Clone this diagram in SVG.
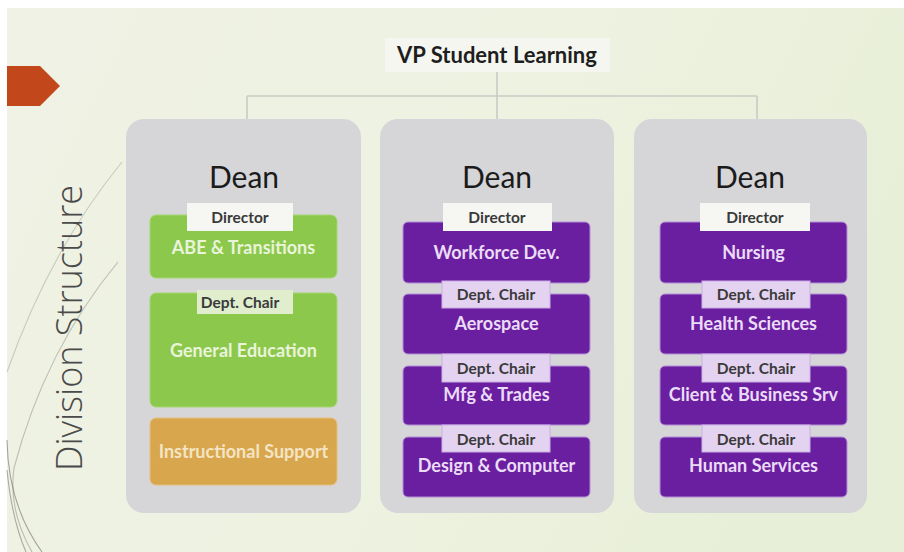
<svg xmlns="http://www.w3.org/2000/svg" width="904" height="552" viewBox="0 0 904 552">
  <defs>
    <linearGradient id="bg" x1="0" y1="0" x2="1" y2="0.3">
      <stop offset="0" stop-color="#eff2e4"/>
      <stop offset="0.6" stop-color="#eef2e1"/>
      <stop offset="1" stop-color="#e8efd8"/>
    </linearGradient>
    <style>
      .panel { fill: #d6d6d9; }
      .green { fill: #8cc84b; stroke: #a6d673; stroke-width: 1; }
      .orange { fill: #d8a64c; stroke: #e6bf7a; stroke-width: 1; }
      .purple { fill: #6a1fa0; stroke: #b48fd6; stroke-width: 1; }
      .lbl-white { fill: #f6f7f2; }
      .lbl-green { fill: #e0eecd; }
      .lbl-purple { fill: #e4d3f0; stroke: #c9aee3; stroke-width: 1; }
      .dean { font-family: Lato, "Open Sans", sans-serif; font-size: 30px; fill: #1b1b1b; text-anchor: middle; }
      .lbl { font-family: Lato, "Open Sans", sans-serif; font-size: 15.5px; font-weight: bold; fill: #3a3a3a; text-anchor: middle; }
      .unit { font-family: Lato, "Open Sans", sans-serif; font-size: 18px; font-weight: bold; text-anchor: middle; }
      .on-green { fill: #e9f4da; }
      .on-orange { fill: #f4e4c4; }
      .on-purple { fill: #eadcf6; }
      .link { fill: none; stroke: #c9cbc4; stroke-width: 1.6; }
      .swirl { fill: none; stroke: #6f6f66; stroke-width: 1.1; }
    </style>
  </defs>

  <!-- slide background with thin white margin top and left -->
  <rect width="904" height="552" fill="#ffffff"/>
  <rect x="7" y="8" width="897" height="544" fill="url(#bg)"/>

  <!-- decorative swirl lines at the lower left -->
  <path class="swirl" opacity="0.3" d="M 122,162 Q 50,250 7,372"/>
  <path class="swirl" opacity="0.4" d="M 118,262 Q 45,350 14,468 Q 8,510 32,552"/>
  <path class="swirl" opacity="0.6" d="M 7,440 Q 8,505 42,552"/>
  <path class="swirl" opacity="0.55" d="M 7,470 Q 12,520 26,552"/>

  <!-- orange slide marker -->
  <polygon points="7,66 40,66 60,86 40,106 7,106" fill="#c2481c"/>

  <!-- vertical slide title -->
  <text transform="translate(82,328) rotate(-90)" font-family="'Open Sans', 'Noto Sans', sans-serif" font-weight="300" font-size="36" fill="#4a4a4a" text-anchor="middle">Division Structure</text>

  <!-- connectors -->
  <g id="connectors">
    <path class="link" d="M 497,72 V 119"/>
    <path class="link" d="M 247,96 H 757"/>
    <path class="link" d="M 247,96 V 119"/>
    <path class="link" d="M 757,96 V 119"/>
  </g>

  <!-- top node -->
  <g id="vp">
    <rect x="385" y="38" width="225" height="34" fill="#f5f6f0"/>
    <text x="497" y="63" font-family="Lato, 'Open Sans', sans-serif" font-weight="bold" font-size="22" fill="#1e1e1e" text-anchor="middle">VP Student Learning</text>
  </g>

  <!-- division 1 -->
  <g id="division-1">
    <rect class="panel" x="126" y="119" width="235" height="394" rx="18"/>
    <text class="dean" x="244" y="188">Dean</text>
    <g id="abe">
      <rect class="green" x="150" y="215" width="187" height="63" rx="6"/>
      <rect class="lbl-white" x="187" y="203" width="106" height="28"/>
      <text class="lbl" x="240" y="222.5">Director</text>
      <text class="unit on-green" x="243.5" y="253.5">ABE &amp; Transitions</text>
    </g>
    <g id="gen-ed">
      <rect class="green" x="150" y="293" width="187" height="114" rx="6"/>
      <rect class="lbl-green" x="197" y="290" width="96" height="24"/>
      <text class="lbl" x="240" y="307.5">Dept. Chair</text>
      <text class="unit on-green" x="243.5" y="356.5">General Education</text>
    </g>
    <g id="instr-support">
      <rect class="orange" x="150" y="418" width="187" height="67" rx="6"/>
      <text class="unit on-orange" x="243.5" y="457.5">Instructional Support</text>
    </g>
  </g>

  <!-- division 2 -->
  <g id="division-2">
    <rect class="panel" x="380" y="119" width="234" height="394" rx="18"/>
    <text class="dean" x="497" y="188">Dean</text>
    <g id="workforce">
      <rect class="purple" x="403" y="222" width="187" height="61" rx="5"/>
      <rect class="lbl-white" x="443" y="203" width="109" height="28"/>
      <text class="lbl" x="497" y="222.5">Director</text>
      <text class="unit on-purple" x="496.5" y="258.5">Workforce Dev.</text>
    </g>
    <g id="aerospace">
      <rect class="purple" x="403" y="294" width="187" height="60" rx="5"/>
      <rect class="lbl-purple" x="442" y="281" width="108" height="27"/>
      <text class="lbl" x="496" y="299.5">Dept. Chair</text>
      <text class="unit on-purple" x="496.5" y="329.5">Aerospace</text>
    </g>
    <g id="mfg">
      <rect class="purple" x="403" y="366" width="187" height="59" rx="5"/>
      <rect class="lbl-purple" x="442" y="354" width="108" height="28"/>
      <text class="lbl" x="496" y="373.5">Dept. Chair</text>
      <text class="unit on-purple" x="496.5" y="400.5">Mfg &amp; Trades</text>
    </g>
    <g id="design">
      <rect class="purple" x="403" y="437" width="187" height="60" rx="5"/>
      <rect class="lbl-purple" x="442" y="425" width="108" height="27"/>
      <text class="lbl" x="496" y="444.5">Dept. Chair</text>
      <text class="unit on-purple" x="496.5" y="471.5">Design &amp; Computer</text>
    </g>
  </g>

  <!-- division 3 -->
  <g id="division-3">
    <rect class="panel" x="634" y="119" width="233" height="394" rx="18"/>
    <text class="dean" x="750" y="188">Dean</text>
    <g id="nursing">
      <rect class="purple" x="660" y="222" width="187" height="61" rx="5"/>
      <rect class="lbl-white" x="700" y="203" width="110" height="28"/>
      <text class="lbl" x="755" y="222.5">Director</text>
      <text class="unit on-purple" x="753.5" y="258.5">Nursing</text>
    </g>
    <g id="health">
      <rect class="purple" x="660" y="294" width="187" height="60" rx="5"/>
      <rect class="lbl-purple" x="702" y="281" width="108" height="27"/>
      <text class="lbl" x="756" y="299.5">Dept. Chair</text>
      <text class="unit on-purple" x="753.5" y="329.5">Health Sciences</text>
    </g>
    <g id="client">
      <rect class="purple" x="660" y="366" width="187" height="59" rx="5"/>
      <rect class="lbl-purple" x="702" y="354" width="108" height="28"/>
      <text class="lbl" x="756" y="373.5">Dept. Chair</text>
      <text class="unit on-purple" x="753.5" y="400.5">Client &amp; Business Srv</text>
    </g>
    <g id="human">
      <rect class="purple" x="660" y="437" width="187" height="60" rx="5"/>
      <rect class="lbl-purple" x="702" y="425" width="108" height="27"/>
      <text class="lbl" x="756" y="444.5">Dept. Chair</text>
      <text class="unit on-purple" x="753.5" y="471.5">Human Services</text>
    </g>
  </g>
</svg>
